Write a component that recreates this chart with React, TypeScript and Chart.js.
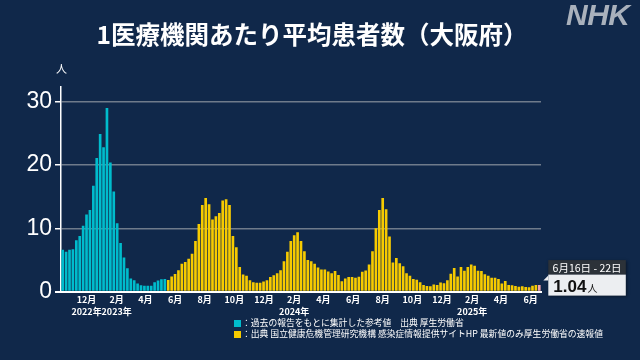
import React, { useEffect, useRef } from "react";
import { Chart, registerables } from "chart.js";

Chart.register(...registerables);

// Monday of the first weekly bar
const FIRST_WEEK = "2022-10-10";

// teal: reference values (before 2023-05-08)
const referenceValues = [
  6.6, 6.3, 6.6, 6.7, 8.1, 8.8, 10.4, 12.2, 12.9, 16.7, 21.1, 24.9, 22.8, 29.0,
  20.4, 15.8, 10.8, 7.7, 5.4, 3.7, 2.1, 1.8, 1.3, 1.0, 0.95, 0.95, 0.95, 1.5,
  1.75, 1.95, 2.0,
];

// yellow: sentinel surveillance values
const surveillanceValues = [
  1.85, 2.4, 2.8, 3.4, 4.4, 4.7, 5.2, 6.0, 8.0, 10.7, 13.7, 14.8, 13.8, 11.4, 11.9, 12.4,
  14.4, 14.6, 13.7, 8.8, 7.0, 3.9, 2.7, 2.5, 1.8, 1.5, 1.4, 1.4, 1.6, 1.8, 2.3, 2.6, 2.9,
  3.4, 4.8, 6.3, 8.0, 8.9, 9.4,
  8.0, 6.4, 5.0, 4.8, 4.4, 3.8, 3.5, 3.5, 3.2, 2.9, 3.25, 2.65, 1.65, 2.1, 2.3, 2.3, 2.2,
  2.35, 3.15, 3.35, 4.3, 6.4, 10.0, 12.9, 14.8,
  13.0, 8.7, 4.6, 5.3, 4.5, 4.0, 2.9, 2.5, 2.0, 1.9, 1.5, 1.05, 0.9, 0.85, 1.15, 1.05,
  1.45, 1.35, 1.8, 2.85, 3.75,
  2.4, 3.9, 3.3, 3.9, 4.3, 4.1, 3.3, 3.25, 2.75, 2.5, 2.2, 2.2, 2.0, 1.3, 1.7, 1.05, 1.0,
  0.9, 0.8, 0.85, 0.75, 0.7, 0.95, 1.05,
];

// pink: latest preliminary value
const latestValues = [1.04];
const latestPeriod = "6月16日 - 22日";
const latestUnit = "人";

const tickMonths = [
  "2022-12-01", "2023-02-01", "2023-04-01", "2023-06-01", "2023-08-01", "2023-10-01",
  "2023-12-01", "2024-02-01", "2024-04-01", "2024-06-01", "2024-08-01", "2024-10-01",
  "2024-12-01", "2025-02-01", "2025-04-01", "2025-06-01",
];
const yearLabels: Record<string, string> = {
  "2022-12-01": "2022年",
  "2023-02-01": "2023年",
  "2024-02-01": "2024年",
  "2025-02-01": "2025年",
};
const yTicks = [0, 10, 20, 30];
const Y_MAX = 32.3;

const TITLE = "1医療機関あたり平均患者数（大阪府）";
const LEGEND_REF = "：過去の報告をもとに集計した参考値　出典 厚生労働省";
const LEGEND_SUR = "：出典 国立健康危機管理研究機構 感染症情報提供サイトHP 最新値のみ厚生労働省の速報値";

const TEAL = "#00bccc";
const YELLOW = "#f7cb00";
const PINK = "#f2a3ad";
const BG = "#10284a";
const GRID = "#6f7b8b";
const JP = '"Noto Sans CJK JP", "Noto Sans", sans-serif';

const DAY = 86400000;
function parseUTC(s: string) {
  const [y, m, d] = s.split("-").map(Number);
  return Date.UTC(y, m - 1, d);
}
const startMs = parseUTC(FIRST_WEEK);
const tickValues = tickMonths.map((d) => (parseUTC(d) - startMs) / DAY / 7 + 0.5 / 7 - 0.5);
const tickTexts = tickMonths.map((d) => {
  const m = Number(d.split("-")[1]) + "月";
  return yearLabels[d] ? [m, yearLabels[d]] : m;
});

export default function App() {
  const canvasRef = useRef<HTMLCanvasElement | null>(null);

  useEffect(() => {
    const canvas = canvasRef.current;
    if (!canvas) return;
    const nRef = referenceValues.length;
    const nSur = surveillanceValues.length;
    const total = nRef + nSur + latestValues.length;

    const calloutPlugin = {
      id: "callout",
      afterDatasetsDraw(chart: any) {
        const meta = chart.getDatasetMeta(2);
        const el = meta.data[meta.data.length - 1];
        if (!el) return;
        const { x, y } = el;
        const ctx = chart.ctx as CanvasRenderingContext2D;
        const left = x + 9;
        const width = 77.5;
        const headerTop = y - 25;
        const headerH = 14.5;
        const boxH = 21;
        ctx.save();
        ctx.shadowColor = "rgba(0,0,0,0.45)";
        ctx.shadowBlur = 3;
        ctx.shadowOffsetX = 1;
        ctx.shadowOffsetY = 1;
        ctx.fillStyle = "#2c3239";
        ctx.fillRect(left, headerTop, width, headerH);
        ctx.fillStyle = "#eceef1";
        ctx.fillRect(left, headerTop + headerH, width, boxH);
        ctx.shadowColor = "transparent";
        // pointer
        ctx.beginPath();
        ctx.moveTo(left - 5, headerTop + headerH + 6);
        ctx.lineTo(left, headerTop + headerH + 1);
        ctx.lineTo(left, headerTop + headerH + 6);
        ctx.closePath();
        ctx.fillStyle = "#eceef1";
        ctx.fill();
        // header text
        ctx.fillStyle = "#ffffff";
        ctx.font = `10.5px ${JP}`;
        ctx.textAlign = "center";
        ctx.textBaseline = "middle";
        ctx.fillText(latestPeriod, left + width / 2, headerTop + headerH / 2 + 0.5);
        // value
        const v = latestValues[latestValues.length - 1].toFixed(2);
        ctx.textAlign = "left";
        ctx.textBaseline = "alphabetic";
        ctx.fillStyle = "#111111";
        ctx.font = 'bold 17px "Liberation Sans", Arial, sans-serif';
        ctx.fillText(v, left + 5, headerTop + 31.7);
        const w = ctx.measureText(v).width;
        ctx.font = `10px ${JP}`;
        ctx.fillText(latestUnit, left + 6 + w, headerTop + 31.7);
        ctx.restore();
      },
    };

    const chart = new Chart(canvas, {
      type: "bar",
      data: {
        datasets: [
          {
            data: referenceValues.map((v, i) => ({ x: i, y: v })),
            backgroundColor: TEAL,
            grouped: false,
            barPercentage: 0.78,
            categoryPercentage: 1,
          } as any,
          {
            data: surveillanceValues.map((v, i) => ({ x: nRef + i, y: v })),
            backgroundColor: YELLOW,
            grouped: false,
            barPercentage: 0.78,
            categoryPercentage: 1,
          } as any,
          {
            data: latestValues.map((v, i) => ({ x: nRef + nSur + i, y: v })),
            backgroundColor: PINK,
            grouped: false,
            barPercentage: 0.78,
            categoryPercentage: 1,
          } as any,
        ],
      },
      options: {
        responsive: false,
        animation: false,
        devicePixelRatio: 1,
        layout: { padding: { top: 87, right: 99, bottom: 0, left: 0 } },
        plugins: {
          legend: { display: false },
          title: { display: false },
          tooltip: { enabled: false },
        },
        scales: {
          x: {
            type: "linear",
            min: -0.5,
            max: total - 0.5,
            offset: false,
            grid: { display: false, drawTicks: false },
            border: { display: true, color: "#ffffff", width: 2 },
            afterFit(scale: any) {
              scale.height = 68.3;
            },
            afterBuildTicks(scale: any) {
              scale.ticks = tickValues.map((v) => ({ value: v }));
            },
            ticks: {
              autoSkip: false,
              maxRotation: 0,
              minRotation: 0,
              padding: 2,
              color: "#ffffff",
              font: { family: JP, size: 9, weight: "bold", lineHeight: 1.35 },
              callback: (_v: any, i: number) => tickTexts[i] as any,
            },
          } as any,
          y: {
            min: 0,
            max: Y_MAX,
            afterFit(scale: any) {
              scale.width = 61;
            },
            afterBuildTicks(scale: any) {
              scale.ticks = yTicks.map((v) => ({ value: v }));
            },
            grid: {
              color: (c: any) => (c.tick && c.tick.value === 0 ? "#ffffff" : GRID),
              lineWidth: (c: any) => (c.tick && c.tick.value === 0 ? 2 : 1.5),
              tickColor: "#ffffff",
              tickLength: 6,
              drawTicks: true,
            },
            border: { display: true, color: "#ffffff", width: 1.5 },
            ticks: {
              color: "#ffffff",
              padding: 3,
              font: { family: '"Liberation Sans", Arial, sans-serif', size: 23 },
            },
          } as any,
        },
      },
      plugins: [calloutPlugin],
    });
    return () => chart.destroy();
  }, []);

  return (
    <div
      style={{
        position: "fixed",
        left: 0,
        top: 0,
        width: 640,
        height: 360,
        background: BG,
        overflow: "hidden",
        fontFamily: JP,
      }}
    >
      <canvas ref={canvasRef} width={640} height={360} style={{ position: "absolute", left: 0, top: 0 }} />
      <div
        style={{
          position: "absolute",
          left: 0,
          top: 18,
          width: 624,
          textAlign: "center",
          color: "#ffffff",
          fontSize: 24.5,
          fontWeight: "bold",
          lineHeight: "32px",
          whiteSpace: "nowrap",
        }}
      >
        {TITLE}
      </div>
      <div
        style={{
          position: "absolute",
          left: 566,
          top: -2,
          color: "#a9b1bc",
          fontFamily: '"Liberation Sans", Arial, sans-serif',
          fontSize: 30,
          fontWeight: "bold",
          fontStyle: "italic",
          letterSpacing: -0.5,
          lineHeight: "34px",
        }}
      >
        NHK
      </div>
      <div
        style={{
          position: "absolute",
          left: 56,
          top: 61,
          color: "#ffffff",
          fontSize: 11,
          lineHeight: "14px",
        }}
      >
        人
      </div>
      <div style={{ position: "absolute", left: 234, top: 320, width: 6.5, height: 6.5, background: TEAL }} />
      <div
        style={{
          position: "absolute",
          left: 242,
          top: 317,
          color: "#ffffff",
          fontSize: 8.8,
          lineHeight: "12px",
          whiteSpace: "pre",
        }}
      >
        {LEGEND_REF}
      </div>
      <div style={{ position: "absolute", left: 234, top: 331, width: 6.5, height: 6.5, background: YELLOW }} />
      <div
        style={{
          position: "absolute",
          left: 242,
          top: 328,
          color: "#ffffff",
          fontSize: 8.8,
          lineHeight: "12px",
          whiteSpace: "pre",
        }}
      >
        {LEGEND_SUR}
      </div>
    </div>
  );
}
